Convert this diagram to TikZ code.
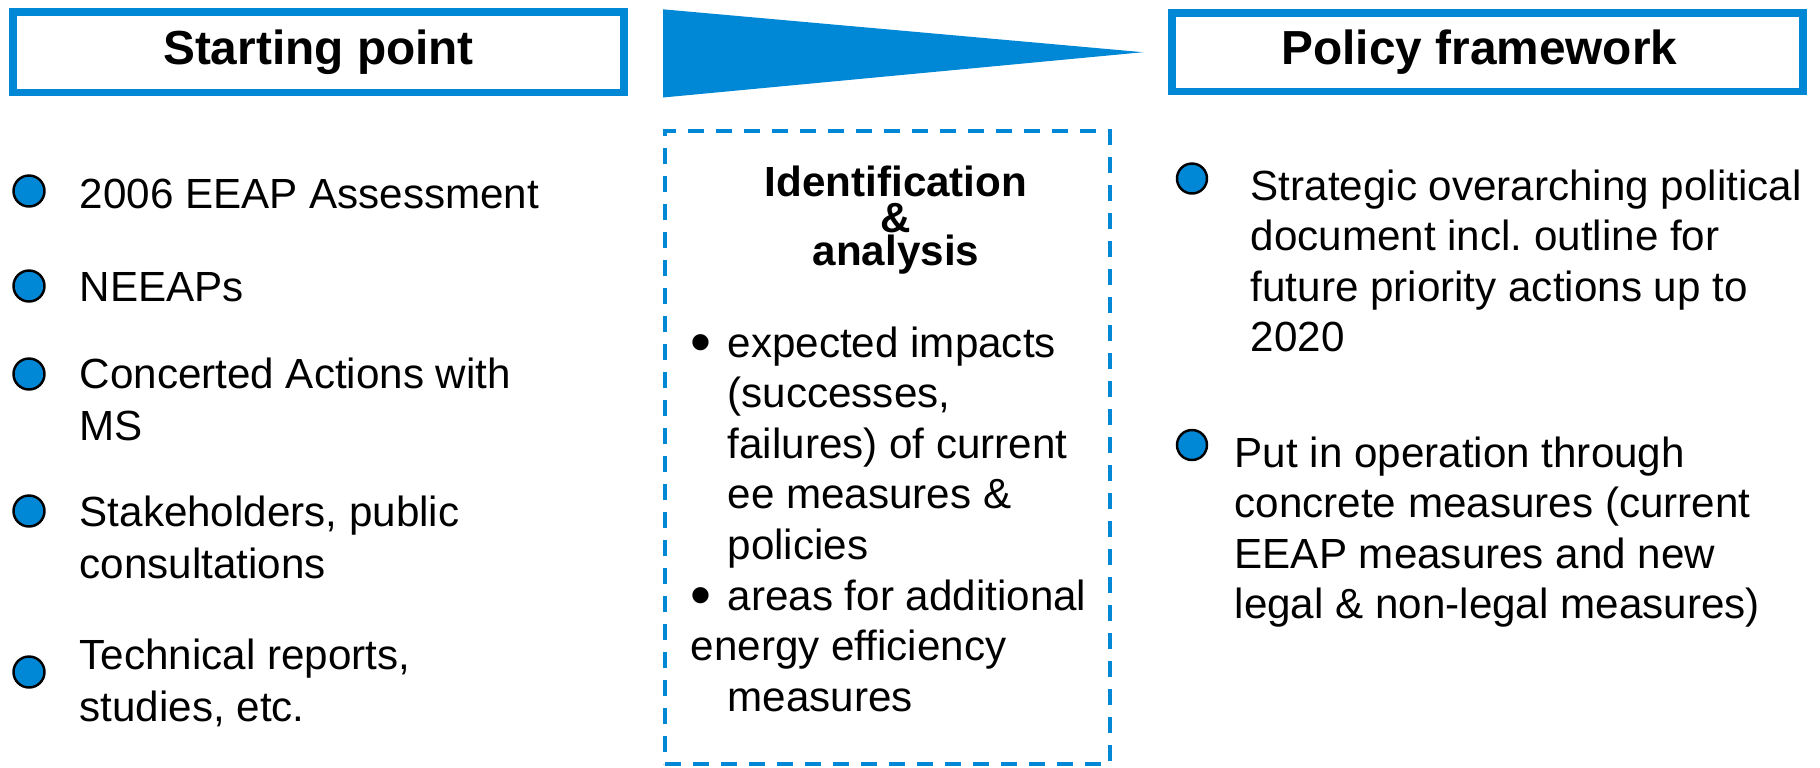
\documentclass[tikz,border=0pt]{standalone}
\usepackage{fontspec}
\setmainfont{Liberation Sans}
\frenchspacing
\definecolor{eeblue}{RGB}{0,136,214}
\newcommand{\bigbullet}{\raisebox{-1.6pt}{\fontsize{17}{14}\selectfont •}}
\begin{document}
\begin{tikzpicture}[
    every node/.style={inner sep=0pt},
    titlebox/.style={draw=eeblue, line width=2.2pt, fill=white, font=\fontsize{13.6}{16}\selectfont\bfseries},
    bulletdot/.style={circle, draw=black, line width=0.7pt, fill=eeblue, minimum size=0.31cm},
    leftitem/.style={anchor=north west, align=left, font=\fontsize{12}{14.8}\selectfont},
    miditem/.style={anchor=north west, align=left, font=\fontsize{12}{14.4}\selectfont},
    rightitem/.style={anchor=north west, align=left, font=\fontsize{12}{14.3}\selectfont}
]
\useasboundingbox (0,0) rectangle (18.2,-7.67);

% Header row
\node[titlebox, minimum width=6.11cm, minimum height=0.805cm] (start) at (3.185,-0.5225) {Starting point};
\node[titlebox, minimum width=6.31cm, minimum height=0.785cm] (policy) at (14.875,-0.5225) {Policy framework\hspace*{0.16cm}};
\coordinate (wedgetop) at (6.63,-0.093);
\coordinate (wedgebot) at (6.63,-0.975);
\coordinate (wedgetip) at (11.43,-0.522);
\fill[eeblue] (wedgetop) -- (wedgetip) -- (wedgebot) -- cycle;

% Starting point column
\node[bulletdot] (b1) at (0.29,-1.91) {};
\node[bulletdot] (b2) at (0.29,-2.86) {};
\node[bulletdot] (b3) at (0.29,-3.74) {};
\node[bulletdot] (b4) at (0.29,-5.11) {};
\node[bulletdot] (b5) at (0.29,-6.72) {};
\node[leftitem] (s1) at (0.79,-1.714) {\strut 2006 EEAP Assessment};
\node[leftitem] (s2) at (0.79,-2.644) {\strut NEEAPs};
\node[leftitem] (s3) at (0.79,-3.514) {\strut Concerted Actions with\\MS};
\node[leftitem] (s4) at (0.79,-4.894) {\strut Stakeholders, public\\consultations};
\node[leftitem] (s5) at (0.79,-6.324) {\strut Technical reports,\\studies, etc.};

% Identification & analysis
\node[draw=eeblue, line width=1.1pt, dash pattern=on 0.16cm off 0.12cm,
      minimum width=4.45cm, minimum height=6.33cm] (idbox) at (8.872,-4.475) {};
\node[anchor=base, font=\fontsize{12}{14}\selectfont\bfseries] (h1) at (8.96,-1.96) {Identification};
\node[anchor=base, font=\fontsize{12}{14}\selectfont\bfseries] (h2) at (8.96,-2.32) {\&};
\node[anchor=base, font=\fontsize{12}{14}\selectfont\bfseries] (h3) at (8.96,-2.65) {analysis};
\node[miditem] (m1) at (6.90,-3.21) {\strut\makebox[0.37cm][l]{\bigbullet}expected impacts\\
    \hspace*{0.37cm}(successes,\\
    \hspace*{0.37cm}failures) of current\\
    \hspace*{0.37cm}ee measures \&\\
    \hspace*{0.37cm}policies\\
    \makebox[0.37cm][l]{\bigbullet}areas for additional\\
    energy efficiency\\
    \hspace*{0.37cm}measures};

% Policy framework column
\node[bulletdot, minimum size=0.3cm] (p1) at (11.92,-1.785) {};
\node[bulletdot, minimum size=0.3cm] (p2) at (11.92,-4.45) {};
\node[rightitem] (r1) at (12.50,-1.647) {\strut Strategic overarching political\\
    document incl. outline for\\future priority actions up to\\2020};
\node[rightitem] (r2) at (12.34,-4.317) {\strut Put in operation through\\
    concrete measures (current\\EEAP measures and new\\legal \& non-legal measures)};
\end{tikzpicture}
\end{document}
